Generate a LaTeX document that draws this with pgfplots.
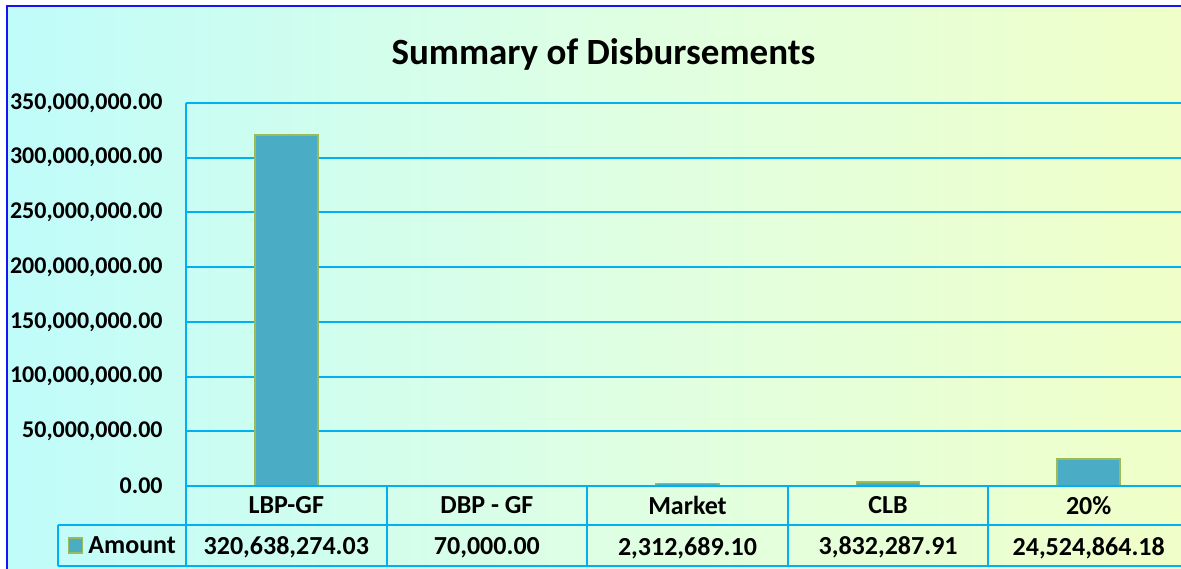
\documentclass[border=0pt]{standalone}
\usepackage{pgfplots}
\pgfplotsset{compat=1.18}
\usepackage{fontspec}
\setmainfont{Carlito}
\definecolor{gridcyan}{RGB}{0,176,240}
\definecolor{barblue}{RGB}{75,172,198}
\definecolor{bargreen}{RGB}{155,187,89}
\definecolor{frameblue}{RGB}{20,20,245}
\definecolor{bgL}{RGB}{192,252,250}
\definecolor{bgM}{RGB}{222,255,228}
\definecolor{bgR}{RGB}{240,255,200}
\begin{document}
\begin{tikzpicture}
\useasboundingbox (0,0) rectangle (590.5pt,284pt);
\shade[left color=bgL, right color=bgR, middle color=bgM] (3.5pt,-2pt) rectangle (592pt,281pt);
\draw[frameblue, line width=1pt] (3.5pt,-5pt) -- (3.5pt,281pt) -- (600pt,281pt);
\node[font=\fontsize{18.5}{22}\selectfont\bfseries] at (301.75pt,257pt) {Summary of Disbursements};
\begin{axis}[
  at={(93pt,41pt)}, anchor=south west, scale only axis,
  width=501.5pt, height=191.5pt,
  xmin=-0.5, xmax=4.5, ymin=0, ymax=350000000,
  scaled y ticks=false,
  ybar, bar width=31.5pt,
  axis line style={draw=none}, tick style={draw=none},
  ymajorgrids, grid style={gridcyan, line width=1pt},
  ytick={0,50000000,100000000,150000000,200000000,250000000,300000000,350000000},
  yticklabels={{0.00},{50,000,000.00},{100,000,000.00},{150,000,000.00},{200,000,000.00},{250,000,000.00},{300,000,000.00},{350,000,000.00}},
  yticklabel style={anchor=east, inner sep=0pt, xshift=-11.5pt, font=\fontsize{12}{14}\selectfont\bfseries},
  xtick={0,1,2,3,4},
  xticklabels={{LBP-GF\\320,638,274.03},{DBP - GF\\70,000.00},{Market\\2,312,689.10},{CLB\\3,832,287.91},{20\%\\24,524,864.18}},
  xticklabel style={align=center, anchor=center, inner sep=0pt, yshift=-16.5pt, font=\fontsize{13}{20.5}\selectfont\bfseries},
  clip=false,
]
\addplot[fill=barblue, draw=bargreen, line width=0.75pt] coordinates {(0,320638274.03) (1,70000) (2,2312689.10) (3,3832287.91) (4,24524864.18)};
\end{axis}
\begin{scope}[gridcyan, line width=1pt]
\draw (93pt,41pt) -- (600pt,41pt);
\draw (29pt,21.5pt) -- (600pt,21.5pt);
\draw (29pt,1pt) -- (600pt,1pt);
\draw (29pt,1pt) -- (29pt,21.5pt);
\draw (93pt,1pt) -- (93pt,232.5pt);
\draw (193.3pt,1pt) -- (193.3pt,41pt);
\draw (293.6pt,1pt) -- (293.6pt,41pt);
\draw (393.9pt,1pt) -- (393.9pt,41pt);
\draw (494.2pt,1pt) -- (494.2pt,41pt);
\end{scope}
\draw[fill=barblue, draw=bargreen, line width=0.75pt] (34.2pt,7.5pt) rectangle (41.2pt,15pt);
\node[anchor=west, inner sep=0pt, font=\fontsize{13}{16}\selectfont\bfseries] at (44pt,11.5pt) {Amount};
\end{tikzpicture}
\end{document}
